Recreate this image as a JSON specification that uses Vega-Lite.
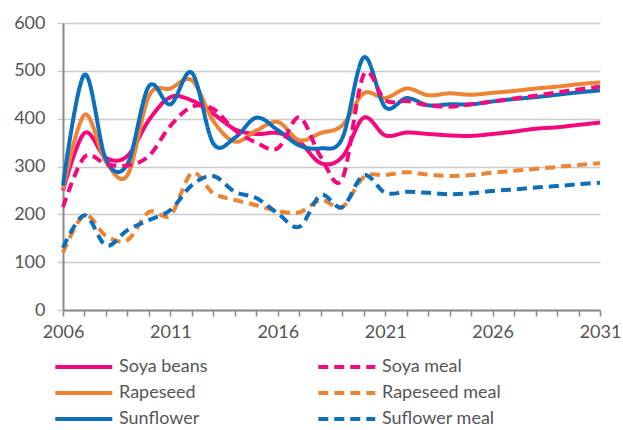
{
  "$schema": "https://vega.github.io/schema/vega-lite/v6.json",
  "width": 537,
  "height": 287,
  "autosize": "none",
  "padding": {"left": 63, "top": 23, "right": 23, "bottom": 120},
  "background": "white",
  "config": {
    "view": {"stroke": null},
    "font": "Lato, Liberation Sans, sans-serif"
  },
  "data": {
    "values": [
      {"year": 2006, "Soya beans": 250, "Soya meal": 215, "Rapeseed": 252, "Rapeseed meal": 120, "Sunflower": 260, "Suflower meal": 130},
      {"year": 2007, "Soya beans": 370, "Soya meal": 320, "Rapeseed": 408, "Rapeseed meal": 198, "Sunflower": 492, "Suflower meal": 198},
      {"year": 2008, "Soya beans": 318, "Soya meal": 305, "Rapeseed": 310, "Rapeseed meal": 155, "Sunflower": 315, "Suflower meal": 135},
      {"year": 2009, "Soya beans": 322, "Soya meal": 302, "Rapeseed": 282, "Rapeseed meal": 146, "Sunflower": 305, "Suflower meal": 167},
      {"year": 2010, "Soya beans": 397, "Soya meal": 322, "Rapeseed": 447, "Rapeseed meal": 205, "Sunflower": 468, "Suflower meal": 188},
      {"year": 2011, "Soya beans": 445, "Soya meal": 385, "Rapeseed": 463, "Rapeseed meal": 198, "Sunflower": 430, "Suflower meal": 209},
      {"year": 2012, "Soya beans": 438, "Soya meal": 425, "Rapeseed": 480, "Rapeseed meal": 286, "Sunflower": 496, "Suflower meal": 261},
      {"year": 2013, "Soya beans": 410, "Soya meal": 420, "Rapeseed": 395, "Rapeseed meal": 244, "Sunflower": 348, "Suflower meal": 280},
      {"year": 2014, "Soya beans": 378, "Soya meal": 376, "Rapeseed": 352, "Rapeseed meal": 230, "Sunflower": 360, "Suflower meal": 247},
      {"year": 2015, "Soya beans": 368, "Soya meal": 350, "Rapeseed": 375, "Rapeseed meal": 219, "Sunflower": 402, "Suflower meal": 234},
      {"year": 2016, "Soya beans": 370, "Soya meal": 338, "Rapeseed": 393, "Rapeseed meal": 207, "Sunflower": 376, "Suflower meal": 202},
      {"year": 2017, "Soya beans": 352, "Soya meal": 403, "Rapeseed": 355, "Rapeseed meal": 204, "Sunflower": 344, "Suflower meal": 174},
      {"year": 2018, "Soya beans": 307, "Soya meal": 320, "Rapeseed": 370, "Rapeseed meal": 230, "Sunflower": 338, "Suflower meal": 240},
      {"year": 2019, "Soya beans": 320, "Soya meal": 274, "Rapeseed": 386, "Rapeseed meal": 215, "Sunflower": 359, "Suflower meal": 215},
      {"year": 2020, "Soya beans": 402, "Soya meal": 492, "Rapeseed": 453, "Rapeseed meal": 278, "Sunflower": 528, "Suflower meal": 282},
      {"year": 2021, "Soya beans": 365, "Soya meal": 438, "Rapeseed": 443, "Rapeseed meal": 282, "Sunflower": 424, "Suflower meal": 245},
      {"year": 2022, "Soya beans": 371, "Soya meal": 437, "Rapeseed": 463, "Rapeseed meal": 288, "Sunflower": 443, "Suflower meal": 247},
      {"year": 2023, "Soya beans": 368, "Soya meal": 428, "Rapeseed": 449, "Rapeseed meal": 283, "Sunflower": 428, "Suflower meal": 245},
      {"year": 2024, "Soya beans": 365, "Soya meal": 425, "Rapeseed": 453, "Rapeseed meal": 280, "Sunflower": 430, "Suflower meal": 242},
      {"year": 2025, "Soya beans": 364, "Soya meal": 430, "Rapeseed": 450, "Rapeseed meal": 282, "Sunflower": 430, "Suflower meal": 244},
      {"year": 2026, "Soya beans": 368, "Soya meal": 436, "Rapeseed": 454, "Rapeseed meal": 287, "Sunflower": 436, "Suflower meal": 249},
      {"year": 2027, "Soya beans": 373, "Soya meal": 442, "Rapeseed": 458, "Rapeseed meal": 291, "Sunflower": 441, "Suflower meal": 252},
      {"year": 2028, "Soya beans": 379, "Soya meal": 448, "Rapeseed": 463, "Rapeseed meal": 295, "Sunflower": 445, "Suflower meal": 256},
      {"year": 2029, "Soya beans": 382, "Soya meal": 455, "Rapeseed": 467, "Rapeseed meal": 299, "Sunflower": 450, "Suflower meal": 259},
      {"year": 2030, "Soya beans": 387, "Soya meal": 461, "Rapeseed": 472, "Rapeseed meal": 303, "Sunflower": 455, "Suflower meal": 263},
      {"year": 2031, "Soya beans": 392, "Soya meal": 467, "Rapeseed": 476, "Rapeseed meal": 307, "Sunflower": 459, "Suflower meal": 266}
    ]
  },
  "transform": [
    {"fold": ["Soya beans", "Rapeseed", "Sunflower", "Soya meal", "Rapeseed meal", "Suflower meal"], "as": ["series", "value"]}
  ],
  "mark": {"type": "line", "interpolate": "cardinal", "strokeWidth": 4},
  "encoding": {
    "x": {
      "field": "year", "type": "quantitative",
      "scale": {"domain": [2006, 2031], "nice": false, "zero": false},
      "axis": {
        "title": null, "grid": false, "format": "d",
        "values": [2006,2007,2008,2009,2010,2011,2012,2013,2014,2015,2016,2017,2018,2019,2020,2021,2022,2023,2024,2025,2026,2027,2028,2029,2030,2031],
        "labelExpr": "(datum.value - 2006) % 5 == 0 ? datum.label : ''",
        "domainColor": "#8a8a8a", "domainWidth": 2,
        "tickColor": "#8a8a8a", "tickSize": 6, "tickWidth": 1.5,
        "labelColor": "#555555", "labelFontSize": 18, "labelPadding": 7,
        "labelOverlap": false, "labelFlush": false
      }
    },
    "y": {
      "field": "value", "type": "quantitative",
      "scale": {"domain": [0, 600], "nice": false},
      "axis": {
        "title": null, "values": [0,100,200,300,400,500,600],
        "domainColor": "#8a8a8a", "domainWidth": 2,
        "gridColor": "#cccccc", "gridWidth": 1.5,
        "tickColor": "#cccccc", "tickSize": 6, "tickWidth": 1.5,
        "labelColor": "#555555", "labelFontSize": 18, "labelPadding": 12
      }
    },
    "color": {
      "field": "series", "type": "nominal",
      "scale": {
        "domain": ["Soya beans", "Rapeseed", "Sunflower", "Soya meal", "Rapeseed meal", "Suflower meal"],
        "range": ["#F5087E", "#EE8433", "#0A6FBD", "#F5087E", "#EE8433", "#0A6FBD"]
      },
      "legend": {
        "title": null, "orient": "none", "legendX": -11, "legendY": 335,
        "columns": 2, "columnPadding": 102, "rowPadding": 8,
        "symbolType": "M-1,0H9", "symbolSize": 130, "symbolStrokeWidth": 4,
        "labelFontSize": 18, "labelColor": "#555555", "labelOffset": 49,
        "labelLimit": 300
      }
    },
    "strokeDash": {
      "field": "series", "type": "nominal",
      "scale": {
        "domain": ["Soya beans", "Rapeseed", "Sunflower", "Soya meal", "Rapeseed meal", "Suflower meal"],
        "range": [[1, 0], [1, 0], [1, 0], [10, 6], [10, 6], [10, 6]]
      },
      "legend": null
    }
  }
}
